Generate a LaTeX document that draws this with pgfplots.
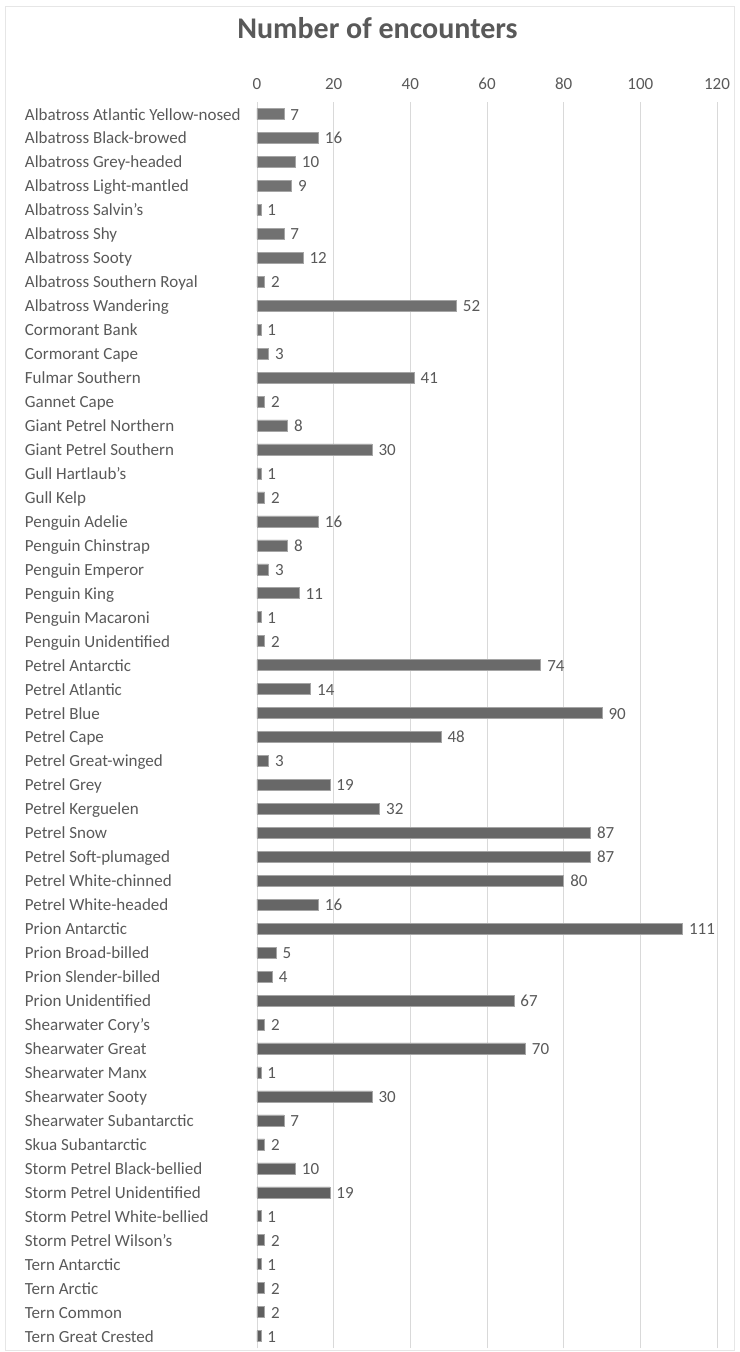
\documentclass[border=0pt]{standalone}
\usepackage{fontspec}
\setmainfont{Carlito}
\usepackage{pgfplots}
\pgfplotsset{compat=1.18}
\definecolor{txt}{RGB}{89,89,89}
\definecolor{gridc}{RGB}{217,217,217}
\definecolor{framec}{RGB}{230,230,230}
\definecolor{bartop}{RGB}{115,115,115}
\definecolor{barmid}{RGB}{82,82,82}
\definecolor{barbot}{RGB}{95,95,95}
\definecolor{baredge}{RGB}{165,165,165}
\begin{document}
\begin{tikzpicture}[x=1pt,y=1pt]
\useasboundingbox (-257,-4) rectangle (482,1348);
\draw[framec, line width=1pt] (-251,-2) rectangle (477,1341);
\node[font=\fontsize{30}{34}\selectfont\bfseries, text=txt, anchor=base] at (120.5,1309) {Number of encounters};
\begin{axis}[
  at={(0,0)}, anchor=south west,
  scale only axis, width=460pt, height=1246pt,
  xmin=0, xmax=120, ymin=-0.5, ymax=51.5,
  xbar, bar width=11pt,
  axis line style={draw=none},
  tick style={draw=none},
  xmajorgrids, grid style={color=gridc, line width=0.8pt},
  xtick={0,20,...,120},
  xticklabel pos=upper,
  xticklabel style={font=\fontsize{17}{20}\selectfont, text=txt, yshift=9pt},
  /pgf/number format/assume math mode=true,
  ytick={0,...,51},
  yticklabels={Tern Great Crested,Tern Common,Tern Arctic,Tern Antarctic,Storm Petrel Wilson's,Storm Petrel White-bellied,Storm Petrel Unidentified,Storm Petrel Black-bellied,Skua Subantarctic,Shearwater Subantarctic,Shearwater Sooty,Shearwater Manx,Shearwater Great,Shearwater Cory's,Prion Unidentified,Prion Slender-billed,Prion Broad-billed,Prion Antarctic,Petrel White-headed,Petrel White-chinned,Petrel Soft-plumaged,Petrel Snow,Petrel Kerguelen,Petrel Grey,Petrel Great-winged,Petrel Cape,Petrel Blue,Petrel Atlantic,Petrel Antarctic,Penguin Unidentified,Penguin Macaroni,Penguin King,Penguin Emperor,Penguin Chinstrap,Penguin Adelie,Gull Kelp,Gull Hartlaub's,Giant Petrel Southern,Giant Petrel Northern,Gannet Cape,Fulmar Southern,Cormorant Cape,Cormorant Bank,Albatross Wandering,Albatross Southern Royal,Albatross Sooty,Albatross Shy,Albatross Salvin's,Albatross Light-mantled,Albatross Grey-headed,Albatross Black-browed,Albatross Atlantic Yellow-nosed},
  yticklabel style={font=\fontsize{17}{20}\selectfont, text=txt, anchor=west, inner sep=0pt, text height=14pt, text depth=2pt, xshift=-228pt},
  nodes near coords,
  nodes near coords style={anchor=west, font=\fontsize{17}{20}\selectfont, text=txt, text height=14pt, text depth=2pt, xshift=3pt},
  point meta=explicit symbolic,
  clip=false,
]
\addplot[top color=bartop, middle color=barmid, bottom color=barbot, draw=baredge, line width=0.5pt] coordinates {
(1,0) [1] (2,1) [2] (2,2) [2] (1,3) [1] (2,4) [2] (1,5) [1] (19,6) [19] (10,7) [10]
(2,8) [2] (7,9) [7] (30,10) [30] (1,11) [1] (70,12) [70] (2,13) [2] (67,14) [67]
(4,15) [4] (5,16) [5] (111,17) [111] (16,18) [16] (80,19) [80] (87,20) [87] (87,21) [87]
(32,22) [32] (19,23) [19] (3,24) [3] (48,25) [48] (90,26) [90] (14,27) [14] (74,28) [74]
(2,29) [2] (1,30) [1] (11,31) [11] (3,32) [3] (8,33) [8] (16,34) [16] (2,35) [2] (1,36) [1]
(30,37) [30] (8,38) [8] (2,39) [2] (41,40) [41] (3,41) [3] (1,42) [1] (52,43) [52]
(2,44) [2] (12,45) [12] (7,46) [7] (1,47) [1] (9,48) [9] (10,49) [10] (16,50) [16] (7,51) [7]
};
\end{axis}
\end{tikzpicture}
\end{document}
